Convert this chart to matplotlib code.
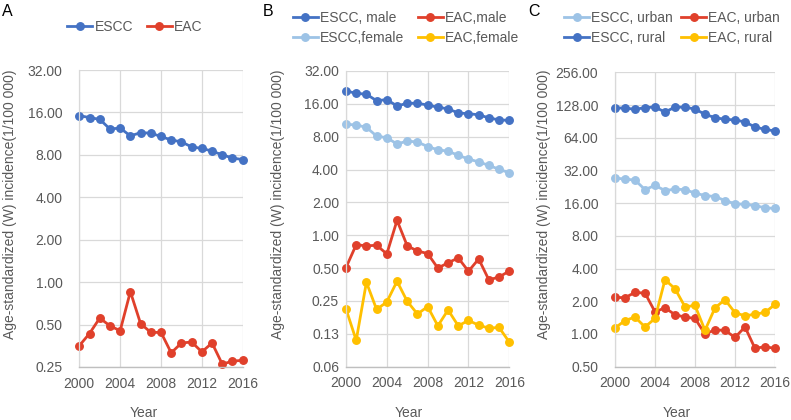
import matplotlib
matplotlib.use("Agg")
import matplotlib.pyplot as plt
from matplotlib.ticker import FixedLocator, NullLocator

plt.rcParams['font.family'] = ['Liberation Sans', 'DejaVu Sans']

years = list(range(2000, 2017))

# Panel A
escc_a = [15.2, 14.7, 14.3, 12.2, 12.4, 10.9, 11.5, 11.4, 10.8, 10.2, 9.9, 9.1, 8.9, 8.5, 8.0, 7.6, 7.4]
eac_a = [0.354, 0.432, 0.556, 0.49, 0.452, 0.856, 0.508, 0.44, 0.44, 0.315, 0.37, 0.376, 0.32, 0.37, 0.262, 0.275, 0.279]

# Panel B
escc_male = [21.0, 20.0, 19.6, 17.1, 17.5, 15.3, 16.2, 16.2, 15.6, 14.9, 14.4, 13.2, 13.0, 12.7, 11.9, 11.4, 11.3]
escc_female = [10.4, 10.25, 9.75, 8.1, 7.83, 6.86, 7.3, 7.15, 6.5, 6.07, 5.9, 5.4, 5.0, 4.7, 4.37, 4.02, 3.74]
eac_male = [0.506, 0.82, 0.80, 0.81, 0.675, 1.37, 0.80, 0.718, 0.68, 0.50, 0.56, 0.62, 0.468, 0.607, 0.39, 0.415, 0.47]
eac_female = [0.211, 0.109, 0.371, 0.209, 0.245, 0.379, 0.248, 0.19, 0.222, 0.148, 0.207, 0.148, 0.166, 0.15, 0.141, 0.143, 0.105]

# Panel C
escc_urban = [27.3, 26.6, 26.1, 21.3, 23.3, 20.9, 21.5, 21.3, 19.8, 18.8, 18.4, 16.9, 15.8, 15.6, 15.2, 14.5, 14.3]
escc_rural = [120.2, 120.0, 116.8, 121.0, 122.7, 110.0, 122.7, 122.0, 117.6, 105.0, 98.0, 94.5, 93.3, 89.4, 80.3, 76.4, 73.8]
eac_urban = [2.17, 2.16, 2.41, 2.38, 1.60, 1.74, 1.505, 1.43, 1.39, 1.0, 1.09, 1.08, 0.93, 1.16, 0.737, 0.764, 0.737]
eac_rural = [1.135, 1.33, 1.43, 1.16, 1.39, 3.16, 2.61, 1.78, 1.83, 1.08, 1.74, 2.07, 1.57, 1.47, 1.52, 1.58, 1.87]

xticks = [2000, 2004, 2008, 2012, 2016]
yticks_a = [0.25, 0.5, 1, 2, 4, 8, 16, 32]
ylabels_a = ["0.25", "0.50", "1.00", "2.00", "4.00", "8.00", "16.00", "32.00"]
yticks_b = [0.0625, 0.125, 0.25, 0.5, 1, 2, 4, 8, 16, 32]
ylabels_b = ["0.06", "0.13", "0.25", "0.50", "1.00", "2.00", "4.00", "8.00", "16.00", "32.00"]
yticks_c = [0.5, 1, 2, 4, 8, 16, 32, 64, 128, 256]
ylabels_c = ["0.50", "1.00", "2.00", "4.00", "8.00", "16.00", "32.00", "64.00", "128.00", "256.00"]

BLUE = "#4472C4"
LBLUE = "#9DC3E6"
RED = "#E0402B"
YEL = "#FFC000"
GRID = "#D9D9D9"
TXT = "#595959"

W, H = 791, 420
fig = plt.figure(figsize=(W / 100, H / 100), dpi=100)


def px_axes(l, t, r, b):
    return fig.add_axes([l / W, 1 - b / H, (r - l) / W, (b - t) / H])


def style(ax, yt, yl, pad):
    ax.set_yscale('log', base=2)
    ax.set_xlim(2000, 2016)
    ax.set_ylim(yt[0], yt[-1])
    ax.yaxis.set_major_locator(FixedLocator(yt))
    ax.yaxis.set_minor_locator(NullLocator())
    ax.set_yticklabels(yl)
    ax.set_xticks(xticks)
    ax.set_xticklabels([str(x) for x in xticks])
    ax.grid(True, color=GRID, linewidth=0.9)
    ax.set_axisbelow(True)
    for s in ['top', 'right']:
        ax.spines[s].set_visible(False)
    ax.spines['left'].set_color(GRID)
    ax.spines['left'].set_linewidth(0.9)
    ax.spines['bottom'].set_color("#BFBFBF")
    ax.spines['bottom'].set_linewidth(1.0)
    ax.tick_params(axis='both', length=0, labelsize=10, labelcolor=TXT)
    ax.tick_params(axis='y', pad=pad)
    ax.tick_params(axis='x', pad=7)


def plot(ax, y, c, label):
    return ax.plot(years, y, color=c, lw=2.0, marker='o', ms=5.4, label=label,
                   clip_on=False)[0]


YLAB = "Age-standardized (W) incidence(1/100 000)"

# A
axA = px_axes(79.3, 70, 242.7, 367)
style(axA, yticks_a, ylabels_a, 12)
hA1 = plot(axA, escc_a, BLUE, "ESCC")
hA2 = plot(axA, eac_a, RED, "EAC")
fig.legend(handles=[hA1, hA2], loc='center', bbox_to_anchor=(135 / W, 1 - 27 / H), ncol=2,
           frameon=False, fontsize=10, labelcolor=TXT, handlelength=1.8, handletextpad=0.15,
           columnspacing=1.0)
fig.text(1.5 / W, 1 - 11 / H, "A", fontsize=11.5, va='center', ha='left')
fig.text(10 / W, 1 - 204 / H, YLAB, rotation=90, fontsize=10, color=TXT, ha='center', va='center')
fig.text(144 / W, 1 - 413 / H, "Year", fontsize=10, color=TXT, ha='center', va='center')

# B
axB = px_axes(346, 71, 509.3, 366.7)
style(axB, yticks_b, ylabels_b, 5)
hB1 = plot(axB, escc_male, BLUE, "ESCC, male")
hB3 = plot(axB, escc_female, LBLUE, "ESCC,female")
hB2 = plot(axB, eac_male, RED, "EAC,male")
hB4 = plot(axB, eac_female, YEL, "EAC,female")
fig.legend(handles=[hB1, hB3, hB2, hB4], loc='center', bbox_to_anchor=(406 / W, 1 - 28 / H), ncol=2,
           frameon=False, fontsize=10, labelcolor=TXT, handlelength=1.8, handletextpad=0.15,
           columnspacing=1.0, labelspacing=0.45)
fig.text(263 / W, 1 - 11 / H, "B", fontsize=11.5, va='center', ha='left')
fig.text(278 / W, 1 - 204 / H, YLAB, rotation=90, fontsize=10, color=TXT, ha='center', va='center')
fig.text(409 / W, 1 - 413 / H, "Year", fontsize=10, color=TXT, ha='center', va='center')

# C
axC = px_axes(615, 72.3, 775, 366.7)
style(axC, yticks_c, ylabels_c, 12)
hC1 = plot(axC, escc_urban, LBLUE, "ESCC, urban")
hC2 = plot(axC, escc_rural, BLUE, "ESCC, rural")
hC3 = plot(axC, eac_urban, RED, "EAC, urban")
hC4 = plot(axC, eac_rural, YEL, "EAC, rural")
fig.legend(handles=[hC1, hC2, hC3, hC4], loc='center', bbox_to_anchor=(672 / W, 1 - 28 / H), ncol=2,
           frameon=False, fontsize=10, labelcolor=TXT, handlelength=1.8, handletextpad=0.15,
           columnspacing=0.6, labelspacing=0.45)
fig.text(528 / W, 1 - 11 / H, "C", fontsize=11.5, va='center', ha='left')
fig.text(544 / W, 1 - 204 / H, YLAB, rotation=90, fontsize=10, color=TXT, ha='center', va='center')
fig.text(677 / W, 1 - 413 / H, "Year", fontsize=10, color=TXT, ha='center', va='center')

fig.savefig("out.png", dpi=100, facecolor='white')
